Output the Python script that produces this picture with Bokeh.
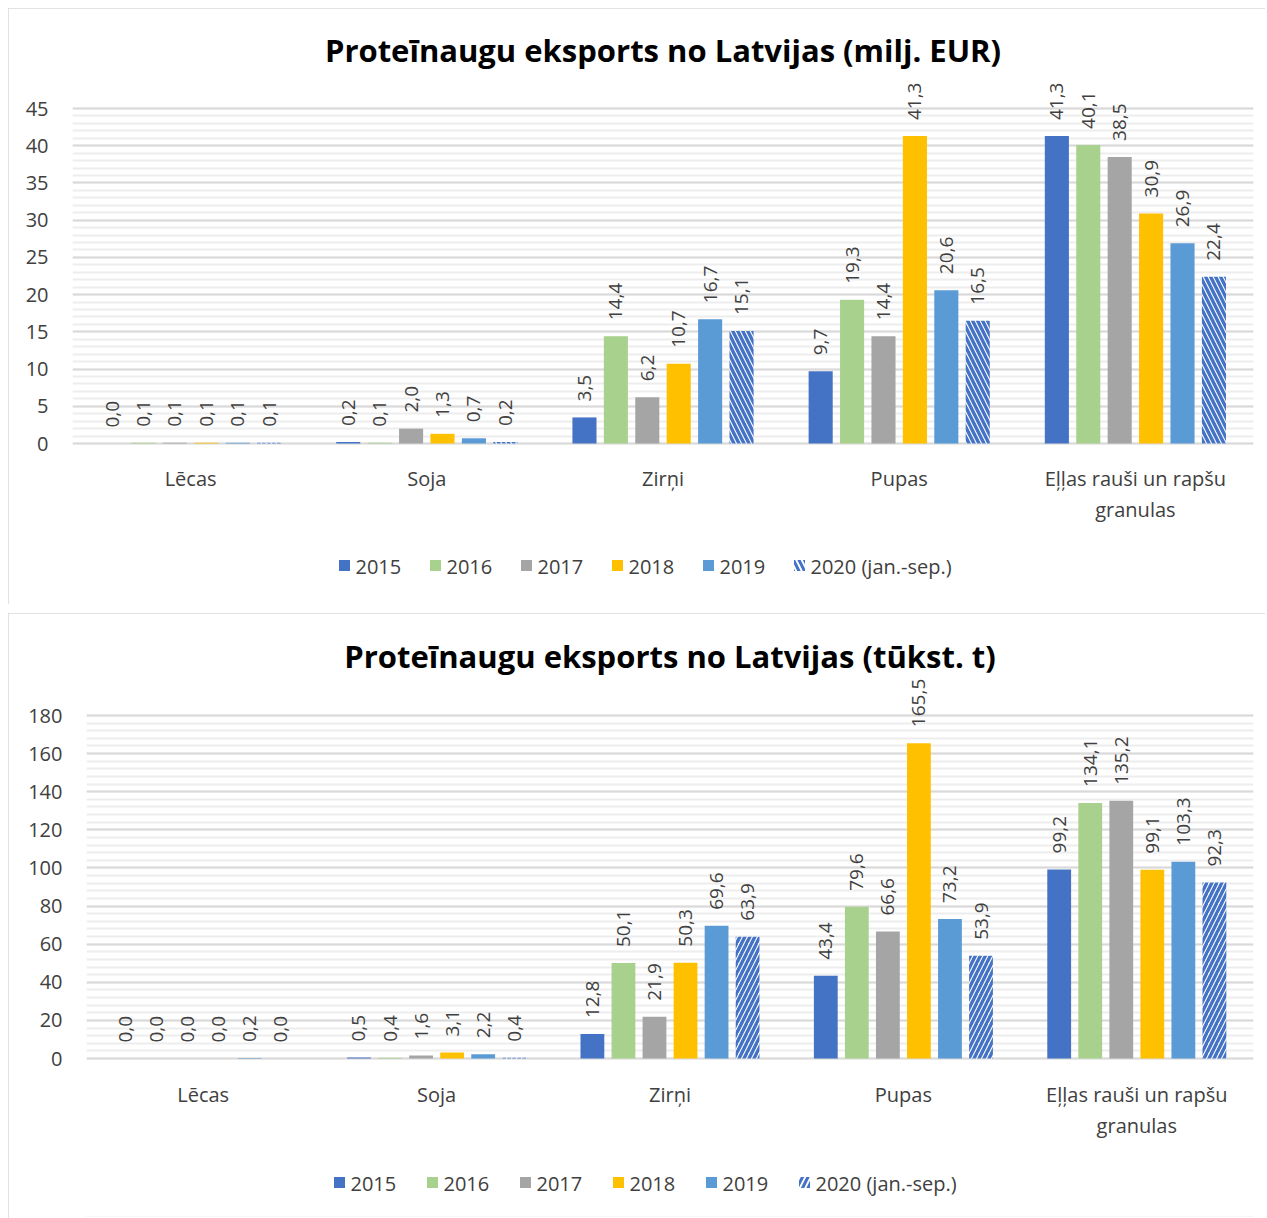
import numpy as np
from bokeh.plotting import figure
from bokeh.models import ColumnDataSource, FixedTicker, Range1d
from bokeh.core.properties import value
from bokeh.embed import file_html
from bokeh.resources import INLINE

categories = ["Lēcas", "Soja", "Zirņi", "Pupas", "Eļļas rauši un rapšu\ngranulas"]
years = ["2015", "2016", "2017", "2018", "2019", "2020 (jan.-sep.)"]
colors = ["#4472C4", "#A9D18E", "#A5A5A5", "#FFC000", "#5B9BD5", "#4472C4"]

# Chart 1: milj. EUR (values per year, categories in the order above)
eur_2015 = [0.0, 0.2, 3.5, 9.7, 41.3]
eur_2016 = [0.1, 0.1, 14.4, 19.3, 40.1]
eur_2017 = [0.1, 2.0, 6.2, 14.4, 38.5]
eur_2018 = [0.1, 1.3, 10.7, 41.3, 30.9]
eur_2019 = [0.1, 0.7, 16.7, 20.6, 26.9]
eur_2020 = [0.1, 0.2, 15.1, 16.5, 22.4]

# Chart 2: tūkst. t
t_2015 = [0.0, 0.5, 12.8, 43.4, 99.2]
t_2016 = [0.0, 0.4, 50.1, 79.6, 134.1]
t_2017 = [0.0, 1.6, 21.9, 66.6, 135.2]
t_2018 = [0.0, 3.1, 50.3, 165.5, 99.1]
t_2019 = [0.2, 2.2, 69.6, 73.2, 103.3]
t_2020 = [0.0, 0.4, 63.9, 53.9, 92.3]

FONT = "Open Sans"
TXT = "#404040"


def make_chart(title, series, ymax, major, minor, hatch, cfg):
    fw, fh = cfg["frame_w"], cfg["frame_h"]
    zero_px = cfg["zero_px"]            # distance from frame top to the 0 line
    ppu = cfg["axis_px"] / ymax         # pixels per data unit
    y_end = zero_px / ppu
    y_start = -(fh - zero_px) / ppu
    ncat = len(categories)
    ppx = fw / ncat

    p = figure(frame_width=fw, frame_height=fh, output_backend="svg",
               toolbar_location=None,
               x_range=Range1d(0, ncat), y_range=Range1d(y_start, y_end),
               min_border_left=cfg["left"], min_border_right=12,
               min_border_top=cfg["top"], min_border_bottom=cfg["bottom"],
               background_fill_color="white", border_fill_color="white",
               margin=cfg["margin"])
    p.styles = {"outline": "2px solid #D9D9D9", "outline-offset": "-2px"}
    p.outline_line_color = None
    p.title.text = title
    p.title.text_font = FONT
    p.title.text_font_style = "bold"
    p.title.text_font_size = "31px"
    p.title.text_color = "#000000"
    p.title.align = "center"
    p.title.standoff = cfg["title_standoff"]

    # axes & grid
    p.xaxis.visible = False
    p.yaxis.ticker = FixedTicker(ticks=list(range(0, ymax + 1, major)),
                                 minor_ticks=list(range(0, ymax + 1, minor)))
    p.yaxis.axis_line_color = None
    p.yaxis.major_tick_line_color = None
    p.yaxis.minor_tick_line_color = None
    p.yaxis.major_label_text_font = FONT
    p.yaxis.major_label_text_font_size = "20px"
    p.yaxis.major_label_text_color = TXT
    p.yaxis.major_label_standoff = 18
    p.xgrid.grid_line_color = None
    p.ygrid.grid_line_color = "#D9D9D9"
    p.ygrid.grid_line_width = 1.8
    p.ygrid.minor_grid_line_color = "#EDEDED"
    p.ygrid.minor_grid_line_width = 1.8

    step = 0.133
    width = 0.102
    xc = np.arange(ncat) + 0.5
    for j, (yr, vals) in enumerate(zip(years, series)):
        xs = xc + (j - 2.5) * step
        labels = [f"{v:.1f}".replace(".", ",") for v in vals]
        src = ColumnDataSource(dict(x=xs, top=vals, lab=labels))
        if j == 5:
            p.vbar(x="x", top="top", width=width, source=src,
                   fill_color="white", line_color=None,
                   hatch_pattern=hatch, hatch_color=colors[j],
                   hatch_weight=3.4, hatch_scale=10)
        else:
            p.vbar(x="x", top="top", width=width, source=src,
                   fill_color=colors[j], line_color=None)
        p.text(x="x", y="top", text="lab", source=src, angle=np.pi / 2,
               text_align="left", text_baseline="middle", y_offset=-16,
               text_font=value(FONT), text_font_size="19px", text_color=TXT)

    # category labels under the 0 line
    csrc = ColumnDataSource(dict(x=xc, y=np.zeros(ncat), t=categories))
    p.text(x="x", y="y", text="t", source=csrc, text_align="center",
           text_baseline="top", y_offset=cfg["cat_dy"], text_line_height=1.18,
           text_font=value(FONT), text_font_size="20px", text_color=TXT)

    # legend row
    leg_y = -cfg["legend_dy"] / ppu
    offs = [(k - 3.5) * cfg["legend_pitch"] + cfg["legend_shift"] for k in range(len(years))]
    lx = [ncat / 2 + o / ppx for o in offs]
    lsrc = ColumnDataSource(dict(x=lx, y=[leg_y] * len(years), t=years))
    p.rect(x="x", y="y", width=11, height=11, width_units="screen", height_units="screen",
           source=ColumnDataSource(dict(x=lx[:5], y=[leg_y] * 5, c=colors[:5])),
           fill_color="c", line_color=None)
    p.rect(x=lx[5], y=leg_y, width=11, height=11, width_units="screen",
           height_units="screen", fill_color="white", line_color=None,
           hatch_pattern=hatch, hatch_color=colors[5], hatch_weight=3, hatch_scale=11)
    p.text(x="x", y="y", text="t", source=lsrc, text_align="left",
           text_baseline="middle", x_offset=11, y_offset=1,
           text_font=value(FONT), text_font_size="20px", text_color=TXT)
    return p


cfg1 = dict(frame_w=1181, frame_h=528, zero_px=371, axis_px=335, left=64, top=64,
            bottom=4, title_standoff=4, legend_dy=122, cat_dy=21,
            legend_pitch=91, legend_shift=0, margin=(8, 0, 0, 8))
cfg2 = dict(frame_w=1167, frame_h=540, zero_px=382, axis_px=343, left=78, top=63,
            bottom=2, title_standoff=0, legend_dy=124, cat_dy=22,
            legend_pitch=93, legend_shift=-5, margin=(9, 0, 0, 8))

p1 = make_chart("Proteīnaugu eksports no Latvijas (milj. EUR)",
                [eur_2015, eur_2016, eur_2017, eur_2018, eur_2019, eur_2020],
                45, 5, 1, "\\", cfg1)
p2 = make_chart("Proteīnaugu eksports no Latvijas (tūkst. t)",
                [t_2015, t_2016, t_2017, t_2018, t_2019, t_2020],
                180, 20, 4, "/", cfg2)

open("out.html", "w").write(file_html([p1, p2], INLINE))
